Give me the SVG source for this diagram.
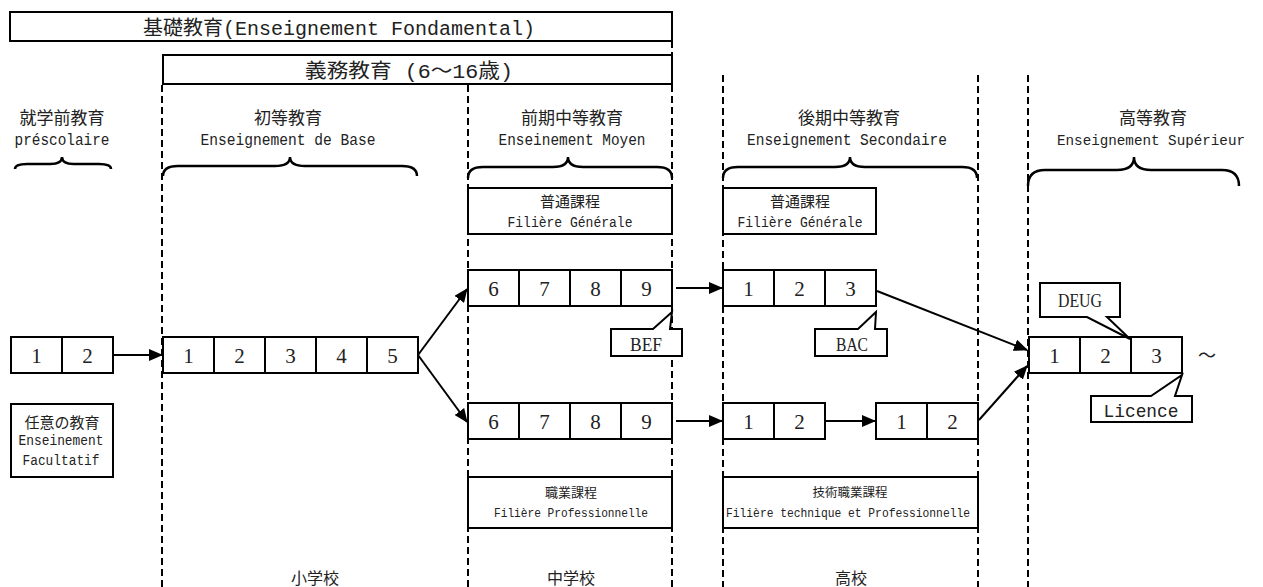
<svg xmlns="http://www.w3.org/2000/svg" width="1263" height="587" viewBox="0 0 1263 587">
<defs>
<marker id="ah" markerWidth="14" markerHeight="12" refX="13" refY="6" orient="auto" markerUnits="userSpaceOnUse"><path d="M0,0 L14,6 L0,12 z" fill="#000"/></marker>
<style>
.box{fill:#fff;stroke:#000;stroke-width:2}
.dash{stroke:#000;stroke-width:2;stroke-dasharray:7 4;fill:none}
.brace{fill:none;stroke:#000;stroke-width:2.5}
.cn{font-family:"Noto Sans CJK JP",sans-serif;fill:#222;text-anchor:middle}
.mono{font-family:"Liberation Mono","Noto Sans CJK JP",monospace;fill:#222;text-anchor:middle}
.num{font-family:"Liberation Serif",serif;font-size:21px;fill:#222;text-anchor:middle}
.lbl{font-family:"Liberation Serif",serif;font-size:19px;fill:#222;text-anchor:middle}
.conn{stroke:#000;stroke-width:2;fill:none;marker-end:url(#ah)}
</style>
</defs>
<rect width="1263" height="587" fill="#fff"/>

<g id="dividers">
<line class="dash" x1="162" y1="85" x2="162" y2="587"/>
<line class="dash" x1="468" y1="85" x2="468" y2="587"/>
<line class="dash" x1="672" y1="41" x2="672" y2="587"/>
<line class="dash" x1="723" y1="75" x2="723" y2="587"/>
<line class="dash" x1="978" y1="75" x2="978" y2="587"/>
<line class="dash" x1="1028" y1="75" x2="1028" y2="587"/>
</g>

<g id="banner-fondamental">
<rect class="box" x="10" y="12" width="662" height="29"/>
<text class="mono" x="339" y="35" font-size="20" textLength="392" lengthAdjust="spacingAndGlyphs">基礎教育(Enseignement Fondamental)</text>
</g>
<g id="banner-obligatoire">
<rect class="box" x="163" y="55" width="509" height="29"/>
<text class="mono" x="409" y="78" font-size="20" textLength="208" lengthAdjust="spacingAndGlyphs">義務教育 (6〜16歳)</text>
</g>

<g id="headings">
<text class="cn" x="62" y="124" font-size="17">就学前教育</text>
<text class="mono" x="62" y="145" font-size="16.5" textLength="95" lengthAdjust="spacingAndGlyphs">préscolaire</text>
<path class="brace" d="M15,169 Q15,164 27,164 L50,164 Q62,164 62,157 Q62,164 74,164 L99,164 Q111,164 111,169"/>
<text class="cn" x="288" y="124" font-size="17">初等教育</text>
<text class="mono" x="288" y="145" font-size="16.5" textLength="175" lengthAdjust="spacingAndGlyphs">Enseignement de Base</text>
<path class="brace" d="M163,176 Q163,166 178,166 L275,166 Q290,166 290,157 Q290,166 305,166 L402,166 Q417,166 417,176"/>
<text class="cn" x="572" y="124" font-size="17">前期中等教育</text>
<text class="mono" x="572" y="145" font-size="16.5" textLength="147" lengthAdjust="spacingAndGlyphs">Enseinement Moyen</text>
<path class="brace" d="M468,178 Q468,167 483,167 L553,167 Q568,167 568,157 Q568,167 583,167 L657,167 Q672,167 672,178"/>
<text class="cn" x="849" y="124" font-size="17">後期中等教育</text>
<text class="mono" x="847" y="145" font-size="16.5" textLength="200" lengthAdjust="spacingAndGlyphs">Enseignement Secondaire</text>
<path class="brace" d="M723,178 Q723,167 738,167 L835,167 Q850,167 850,157 Q850,167 865,167 L962,167 Q977,167 977,178"/>
<text class="cn" x="1153" y="124" font-size="17">高等教育</text>
<text class="mono" x="1151" y="145" font-size="15" textLength="188" lengthAdjust="spacingAndGlyphs">Enseignement Supérieur</text>
<path class="brace" d="M1028,186 Q1028,170 1045,170 L1117,170 Q1134,170 1134,157 Q1134,170 1151,170 L1222,170 Q1239,170 1239,186"/>
</g>

<g id="connectors">
<line class="conn" x1="113" y1="355" x2="162" y2="355"/>
<line class="conn" x1="418" y1="355" x2="467" y2="289"/>
<line class="conn" x1="418" y1="355" x2="467" y2="422"/>
<line class="conn" x1="676" y1="288" x2="722" y2="288"/>
<line class="conn" x1="676" y1="421" x2="722" y2="421"/>
<line class="conn" x1="826" y1="421" x2="875" y2="421"/>
<line class="conn" x1="877" y1="291" x2="1027" y2="350"/>
<line class="conn" x1="979" y1="420" x2="1027" y2="366"/>
</g>

<g id="preschool-years">
<rect class="box" x="11" y="337" width="51" height="36"/><rect class="box" x="62" y="337" width="51" height="36"/>
<text class="num" x="36.5" y="363">1</text><text class="num" x="87.5" y="363">2</text>
</g>
<g id="facultatif">
<rect class="box" x="11" y="404" width="102" height="73"/>
<text class="cn" x="62" y="428" font-size="15">任意の教育</text>
<text class="mono" x="61" y="445" font-size="14.5" textLength="85" lengthAdjust="spacingAndGlyphs">Enseinement</text>
<text class="mono" x="61" y="465" font-size="14.5" textLength="77" lengthAdjust="spacingAndGlyphs">Facultatif</text>
</g>
<g id="primary-years">
<rect class="box" x="163" y="337" width="51" height="36"/><rect class="box" x="214" y="337" width="51" height="36"/><rect class="box" x="265" y="337" width="51" height="36"/><rect class="box" x="316" y="337" width="51" height="36"/><rect class="box" x="367" y="337" width="51" height="36"/>
<text class="num" x="188.5" y="363">1</text><text class="num" x="239.5" y="363">2</text><text class="num" x="290.5" y="363">3</text><text class="num" x="341.5" y="363">4</text><text class="num" x="392.5" y="363">5</text>
</g>
<g id="middle-general">
<rect class="box" x="468" y="188" width="204" height="46"/>
<text class="cn" x="570" y="207" font-size="15">普通課程</text>
<text class="mono" x="570" y="227" font-size="14.5" textLength="125" lengthAdjust="spacingAndGlyphs">Filière Générale</text>
</g>
<g id="middle-general-years">
<rect class="box" x="468" y="270" width="51" height="36"/><rect class="box" x="519" y="270" width="51" height="36"/><rect class="box" x="570" y="270" width="51" height="36"/><rect class="box" x="621" y="270" width="51" height="36"/>
<text class="num" x="493.5" y="296">6</text><text class="num" x="544.5" y="296">7</text><text class="num" x="595.5" y="296">8</text><text class="num" x="646.5" y="296">9</text>
</g>
<g id="bef">
<path class="box" d="M611,329 L653,329 L672,312 L670,329 L682,329 L682,356 L611,356 Z"/>
<text class="lbl" x="646" y="351" textLength="32" lengthAdjust="spacingAndGlyphs">BEF</text>
</g>
<g id="middle-prof-years">
<rect class="box" x="468" y="403" width="51" height="36"/><rect class="box" x="519" y="403" width="51" height="36"/><rect class="box" x="570" y="403" width="51" height="36"/><rect class="box" x="621" y="403" width="51" height="36"/>
<text class="num" x="493.5" y="429">6</text><text class="num" x="544.5" y="429">7</text><text class="num" x="595.5" y="429">8</text><text class="num" x="646.5" y="429">9</text>
</g>
<g id="middle-prof">
<rect class="box" x="468" y="477" width="204" height="51"/>
<text class="cn" x="571" y="497" font-size="13">職業課程</text>
<text class="mono" x="571" y="517" font-size="12.5" textLength="154" lengthAdjust="spacingAndGlyphs">Filière Professionnelle</text>
</g>
<g id="secondary-general">
<rect class="box" x="723" y="188" width="153" height="46"/>
<text class="cn" x="800" y="207" font-size="15">普通課程</text>
<text class="mono" x="800" y="227" font-size="14.5" textLength="125" lengthAdjust="spacingAndGlyphs">Filière Générale</text>
</g>
<g id="secondary-general-years">
<rect class="box" x="723" y="270" width="51" height="36"/><rect class="box" x="774" y="270" width="51" height="36"/><rect class="box" x="825" y="270" width="51" height="36"/>
<text class="num" x="748.5" y="296">1</text><text class="num" x="799.5" y="296">2</text><text class="num" x="850.5" y="296">3</text>
</g>
<g id="bac">
<path class="box" d="M815,329 L858,329 L876,312 L875,329 L887,329 L887,356 L815,356 Z"/>
<text class="lbl" x="852" y="351" textLength="32" lengthAdjust="spacingAndGlyphs">BAC</text>
</g>
<g id="secondary-tech-years-a">
<rect class="box" x="723" y="403" width="51" height="36"/><rect class="box" x="774" y="403" width="51" height="36"/>
<text class="num" x="748.5" y="429">1</text><text class="num" x="799.5" y="429">2</text>
</g>
<g id="secondary-tech-years-b">
<rect class="box" x="876" y="403" width="51" height="36"/><rect class="box" x="927" y="403" width="51" height="36"/>
<text class="num" x="901.5" y="429">1</text><text class="num" x="952.5" y="429">2</text>
</g>
<g id="secondary-tech">
<rect class="box" x="723" y="477" width="255" height="51"/>
<text class="cn" x="850" y="497" font-size="12.5">技術職業課程</text>
<text class="mono" x="848" y="517" font-size="13" textLength="244" lengthAdjust="spacingAndGlyphs">Filière technique et Professionnelle</text>
</g>
<g id="higher-years">
<rect class="box" x="1029" y="337" width="51" height="36"/><rect class="box" x="1080" y="337" width="51" height="36"/><rect class="box" x="1131" y="337" width="51" height="36"/>
<text class="num" x="1054.5" y="363">1</text><text class="num" x="1105.5" y="363">2</text><text class="num" x="1156.5" y="363">3</text>
<text class="cn" x="1207" y="362" font-size="18">〜</text>
</g>
<g id="deug">
<path class="box" d="M1040,283 L1120,283 L1120,317 L1107,317 L1130,339 L1087,317 L1040,317 Z"/>
<text class="lbl" x="1080" y="307" textLength="44" lengthAdjust="spacingAndGlyphs">DEUG</text>
</g>
<g id="licence">
<path class="box" d="M1091,396 L1151,396 L1182,375 L1175,396 L1192,396 L1192,422 L1091,422 Z"/>
<text class="mono" x="1141" y="417" font-size="19" textLength="75" lengthAdjust="spacingAndGlyphs">Licence</text>
</g>

<g id="school-labels">
<text class="cn" x="315" y="584" font-size="16">小学校</text>
<text class="cn" x="571" y="584" font-size="16">中学校</text>
<text class="cn" x="851" y="584" font-size="16">高校</text>
</g>
</svg>
